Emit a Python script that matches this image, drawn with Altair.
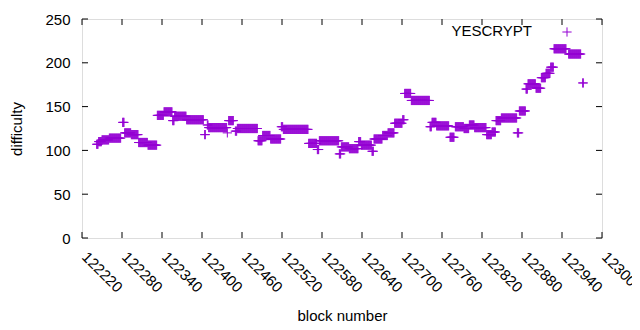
import altair as alt
import numpy as np
import pandas as pd

# Runs of constant difficulty: first block, last block, difficulty
seg_start = [122242, 122245, 122250, 122261, 122281, 122284, 122294, 122305, 122319, 122333,
             122343, 122356, 122359, 122377, 122404, 122408, 122410, 122438, 122440, 122450,
             122453, 122484, 122491, 122503, 122519, 122522, 122560, 122573, 122576, 122606,
             122609, 122621, 122635, 122639, 122655, 122658, 122671, 122679, 122689, 122701,
             122704, 122714, 122742, 122745, 122752, 122772, 122780, 122793, 122801, 122809,
             122827, 122835, 122841, 122849, 122873, 122876, 122886, 122889, 122901, 122909,
             122916, 122923, 122928, 122950, 122971]
seg_end = [122244, 122249, 122260, 122278, 122283, 122293, 122304, 122318, 122332, 122342,
           122355, 122358, 122376, 122402, 122405, 122409, 122437, 122438, 122447, 122452,
           122483, 122490, 122502, 122518, 122521, 122559, 122572, 122575, 122605, 122608,
           122620, 122634, 122638, 122654, 122657, 122670, 122678, 122688, 122700, 122703,
           122713, 122741, 122744, 122751, 122770, 122778, 122792, 122800, 122808, 122826,
           122834, 122840, 122848, 122872, 122875, 122885, 122888, 122900, 122908, 122915,
           122922, 122927, 122946, 122968, 122972]
seg_value = [107, 110, 112, 114, 132, 120, 118, 109, 106, 140,
             144, 134, 139, 135, 118, 129, 126, 120, 134, 122,
             125, 111, 117, 113, 127, 124, 108, 101, 111, 96,
             104, 102, 110, 106, 99, 113, 117, 120, 131, 135,
             165, 157, 127, 132, 128, 115, 127, 125, 129, 126,
             118, 121, 134, 137, 120, 145, 170, 176, 171, 183,
             188, 195, 216, 210, 177]

x_ticks = list(range(122220, 123001, 60))
y_ticks = [0, 50, 100, 150, 200, 250]
series_name = "YESCRYPT"

blocks, diffs = [], []
for s, e, v in zip(seg_start, seg_end, seg_value):
    for b in range(s, e + 1):
        blocks.append(b)
        diffs.append(v)
df = pd.DataFrame({"block": blocks, "difficulty": diffs})

W, H = 520, 219
COLOR = "#9400d3"
FONT = "Liberation Sans"
FS = 15
CROSS = "M-1,0L1,0M0,-1L0,1"

xs = alt.Scale(domain=[122220, 123000], nice=False, zero=False)
ys = alt.Scale(domain=[0, 250], nice=False)

common_axis = dict(grid=False, ticks=False, domain=False,
                   labelFont=FONT, titleFont=FONT, labelFontSize=FS, titleFontSize=FS,
                   labelColor="black", titleColor="black", titleFontWeight="normal")
x_axis = alt.Axis(values=x_ticks, title="block number",
                  labelAngle=45, labelAlign="left", labelBaseline="top",
                  labelPadding=11, labelOffset=7, format="d",
                  titlePadding=14, labelFlush=False, labelOverlap=False,
                  labelBound=False, **common_axis)
y_axis = alt.Axis(values=y_ticks, title="difficulty",
                  labelPadding=12, titlePadding=20, **common_axis)

points = alt.Chart(df).mark_point(shape=CROSS, size=85, filled=False, strokeWidth=1,
                                  color=COLOR, opacity=1).encode(
    x=alt.X("block:Q", scale=xs, axis=x_axis),
    y=alt.Y("difficulty:Q", scale=ys, axis=y_axis),
)

xt = pd.DataFrame({"v": x_ticks})
yt = pd.DataFrame({"v": y_ticks})
xb = alt.Chart(xt).mark_rule(color="black", strokeWidth=1).encode(
    x=alt.X("v:Q", scale=xs, axis=x_axis), y=alt.value(H), y2=alt.value(H - 6))
xtop = alt.Chart(xt).mark_rule(color="black", strokeWidth=1).encode(
    x=alt.X("v:Q", scale=xs, axis=x_axis), y=alt.value(0), y2=alt.value(6))
yl = alt.Chart(yt).mark_rule(color="black", strokeWidth=1).encode(
    y=alt.Y("v:Q", scale=ys, axis=y_axis), x=alt.value(0), x2=alt.value(6))
yr = alt.Chart(yt).mark_rule(color="black", strokeWidth=1).encode(
    y=alt.Y("v:Q", scale=ys, axis=y_axis), x=alt.value(W), x2=alt.value(W - 6))

leg_df = pd.DataFrame({"name": [series_name]})
leg_text = alt.Chart(leg_df).mark_text(align="right", baseline="middle", font=FONT,
                                       fontSize=FS, color="black").encode(
    text="name:N", x=alt.value(450), y=alt.value(12))
leg_pt = alt.Chart(leg_df).mark_point(shape=CROSS, size=85, filled=False, strokeWidth=1,
                                      color=COLOR, opacity=1).encode(
    x=alt.value(485), y=alt.value(13))

chart = alt.layer(points, xb, xtop, yl, yr, leg_text, leg_pt).properties(
    width=W, height=H,
    autosize=alt.AutoSizeParams(type="none"),
    padding={"left": 74, "top": 11, "right": 30, "bottom": 90},
).configure_view(stroke="#000000", strokeWidth=1).configure(background="white")

chart.save("out.html", embed_options={"renderer": "svg", "actions": False})
